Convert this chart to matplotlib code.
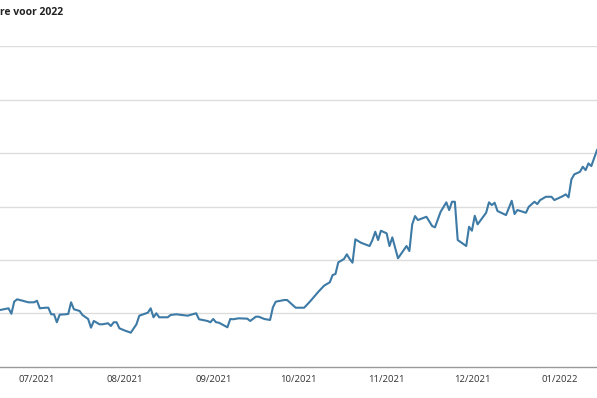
import matplotlib.pyplot as plt
import matplotlib.dates as mdates
import pandas as pd

# price series (y axis labels are cropped away in the source)
dates = [
    "2021-06-18", "2021-06-21", "2021-06-22", "2021-06-23", "2021-06-24", "2021-06-25",
    "2021-06-28", "2021-06-30", "2021-07-01", "2021-07-02", "2021-07-04", "2021-07-05",
    "2021-07-06", "2021-07-07", "2021-07-08", "2021-07-09", "2021-07-11", "2021-07-12",
    "2021-07-13", "2021-07-14", "2021-07-16", "2021-07-17", "2021-07-19", "2021-07-20",
    "2021-07-21", "2021-07-23", "2021-07-24", "2021-07-26", "2021-07-27", "2021-07-28",
    "2021-07-29", "2021-07-30", "2021-08-01", "2021-08-03", "2021-08-05", "2021-08-06",
    "2021-08-09", "2021-08-10", "2021-08-11", "2021-08-12", "2021-08-13", "2021-08-16",
    "2021-08-17", "2021-08-19", "2021-08-23", "2021-08-26", "2021-08-27", "2021-08-30",
    "2021-08-31", "2021-09-01", "2021-09-02", "2021-09-03", "2021-09-06", "2021-09-07",
    "2021-09-08", "2021-09-10", "2021-09-13", "2021-09-14", "2021-09-16", "2021-09-17",
    "2021-09-19", "2021-09-21", "2021-09-22", "2021-09-23", "2021-09-26", "2021-09-27",
    "2021-09-30", "2021-10-03", "2021-10-05", "2021-10-08", "2021-10-10", "2021-10-12",
    "2021-10-13", "2021-10-14", "2021-10-15", "2021-10-17", "2021-10-18", "2021-10-19",
    "2021-10-20", "2021-10-21", "2021-10-23", "2021-10-26", "2021-10-27", "2021-10-28",
    "2021-10-29", "2021-10-30", "2021-11-01", "2021-11-02", "2021-11-03", "2021-11-05",
    "2021-11-08", "2021-11-09", "2021-11-10", "2021-11-11", "2021-11-12", "2021-11-15",
    "2021-11-17", "2021-11-18", "2021-11-20", "2021-11-22", "2021-11-23", "2021-11-24",
    "2021-11-25", "2021-11-26", "2021-11-29", "2021-11-30", "2021-12-01", "2021-12-02",
    "2021-12-03", "2021-12-06", "2021-12-07", "2021-12-08", "2021-12-09", "2021-12-10",
    "2021-12-13", "2021-12-15", "2021-12-16", "2021-12-17", "2021-12-20", "2021-12-21",
    "2021-12-23", "2021-12-24", "2021-12-25", "2021-12-27", "2021-12-29", "2021-12-30",
    "2022-01-02", "2022-01-03", "2022-01-04", "2022-01-05", "2022-01-06", "2022-01-08",
    "2022-01-09", "2022-01-10", "2022-01-11", "2022-01-12", "2022-01-14",
]
prices = [
    10.65, 10.97, 9.95, 12.21, 12.65, 12.52,
    12.09, 12.09, 12.39, 10.97, 11.08, 11.08,
    9.85, 9.85, 8.36, 9.78, 9.85, 9.91,
    12.09, 10.79, 10.47, 9.72, 8.97, 7.35,
    8.60, 7.98, 7.98, 8.17, 7.66, 8.36,
    8.36, 7.23, 6.79, 6.41, 7.98, 9.59,
    10.15, 10.97, 9.29, 10.04, 9.29, 9.29,
    9.72, 9.85, 9.59, 10.04, 8.92, 8.60,
    8.36, 8.97, 8.36, 8.28, 7.42, 8.97,
    8.92, 9.10, 9.03, 8.60, 9.40, 9.40,
    8.97, 8.79, 11.16, 12.21, 12.52, 12.52,
    11.08, 11.08, 12.21, 14.07, 15.20, 15.83,
    17.20, 17.38, 19.57, 20.19, 21.07, 20.19,
    19.50, 23.87, 23.23, 22.62, 23.74, 25.29,
    23.74, 25.48, 24.99, 22.62, 24.24, 20.32,
    22.62, 21.68, 26.67, 28.22, 27.48, 28.09,
    26.36, 26.11, 29.03, 30.79, 29.35, 30.90,
    30.90, 23.74, 22.62, 26.22, 25.48, 28.28,
    26.67, 28.84, 30.79, 30.28, 30.71, 29.16,
    28.41, 31.08, 28.60, 29.35, 28.84, 29.96,
    30.90, 30.47, 31.21, 31.83, 31.83, 31.21,
    31.96, 32.28, 31.72, 35.08, 36.02, 36.50,
    37.44, 36.82, 38.07, 37.57, 40.56,
]
title = "re voor 2022"
grid_values = [10, 20, 30, 40, 50, 60]
month_ticks = ["2021-07-01", "2021-08-01", "2021-09-01", "2021-10-01",
               "2021-11-01", "2021-12-01", "2022-01-01"]

plt.rcParams["font.family"] = ["Open Sans", "DejaVu Sans"]

fig = plt.figure(figsize=(5.97, 3.98), dpi=100)
ax = fig.add_axes([0, 0.078, 1, 0.806])

x = pd.to_datetime(dates)
ax.plot(x, prices, color="#3d7aa5", lw=1.5, solid_joinstyle="round", zorder=3)

ax.set_xlim(pd.Timestamp("2021-06-18"), pd.Timestamp("2022-01-14"))
ax.set_ylim(0, 60)
ax.set_yticks(grid_values)
ax.yaxis.grid(True, color="#dddddd", lw=1)
ax.tick_params(axis="y", left=False, labelleft=False)

ax.set_xticks(pd.to_datetime(month_ticks))
ax.xaxis.set_major_formatter(mdates.DateFormatter("%m/%Y"))
ax.tick_params(axis="x", length=0, pad=6, labelsize=6.8, colors="#333333")

for s in ["top", "left", "right"]:
    ax.spines[s].set_visible(False)
ax.spines["bottom"].set_color("#999999")
ax.spines["bottom"].set_linewidth(1)

fig.text(0.0, 0.968, title, fontsize=7.5, fontweight="bold", color="#222222",
         ha="left", va="center")

fig.savefig("out.png", dpi=100)
